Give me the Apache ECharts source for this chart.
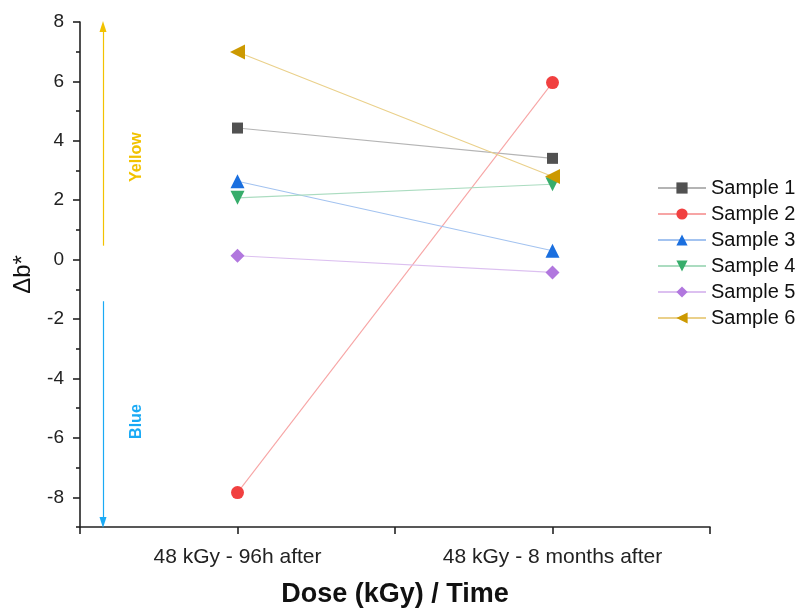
<!DOCTYPE html>
<html>
<head>
<meta charset="utf-8">
<script src="https://cdn.jsdelivr.net/npm/echarts@6/dist/echarts.min.js"></script>
<style>
  html, body { margin: 0; padding: 0; background: #fff; }
  #chart { width: 803px; height: 608px; }
</style>
</head>
<body>
<div id="chart"></div>
<script>
// categories on the x axis (placed at x = 1 and x = 2)
const categories = ['48 kGy - 96h after', '48 kGy - 8 months after'];
const sampleNames = ['Sample 1', 'Sample 2', 'Sample 3', 'Sample 4', 'Sample 5', 'Sample 6'];
const sample1 = [4.43, 3.41];
const sample2 = [-7.84, 5.96];
const sample3 = [2.64, 0.3];
const sample4 = [2.08, 2.54];
const sample5 = [0.13, -0.43];
const sample6 = [6.99, 2.8];
const yTicks = [-8, -6, -4, -2, 0, 2, 4, 6, 8];
const yMinorTicks = [-9, -7, -5, -3, -1, 1, 3, 5, 7];

const FONT = 'Arial, "Liberation Sans", sans-serif';
const markerColors = ['#515151', '#F14040', '#1A6FDF', '#37AD6B', '#B177DE', '#CC9900'];
const lineColors = ['#b4b4b4', '#f7a5a5', '#a3c3f0', '#abdcc0', '#dcc0f0', '#ead08a'];
const symbols = ['rect', 'circle', 'triangle', 'triangle', 'diamond', 'triangle'];
const rotates = [0, 0, 0, 180, 0, 90];
const sizes = [11, 13, 14, 14, 14, 15];
const allData = [sample1, sample2, sample3, sample4, sample5, sample6];

const chart = echarts.init(document.getElementById('chart'));

const series = allData.map((vals, i) => ({
  name: sampleNames[i],
  type: 'line',
  data: vals.map((v, j) => [j + 1, v]),
  symbol: symbols[i],
  symbolSize: sizes[i],
  symbolRotate: rotates[i],
  showAllSymbol: true,
  lineStyle: { color: lineColors[i], width: 1.1 },
  itemStyle: { color: markerColors[i] },
  z: 3
}));

// colour direction arrows
series.push({
  type: 'line',
  data: [],
  silent: true,
  markLine: {
    silent: true,
    symbol: ['none', 'triangle'],
    symbolSize: [7, 11],
    label: { show: false },
    data: [
      [{ coord: [0.573, 0.47], lineStyle: { color: '#F2C200', width: 1.2, type: 'solid' } },
       { coord: [0.573, 7.85] }],
      [{ coord: [0.573, -1.4], lineStyle: { color: '#1AAAF5', width: 1.2, type: 'solid' } },
       { coord: [0.573, -8.85] }]
    ]
  }
});

chart.setOption({
  animation: false,
  backgroundColor: '#fff',
  grid: { left: 80, right: 93, top: 22, bottom: 81, outerBoundsMode: 'none' },
  legend: {
    data: sampleNames,
    orient: 'vertical',
    left: 652,
    top: 173,
    itemWidth: 48,
    itemHeight: 14,
    itemGap: 6,
    textStyle: { fontFamily: FONT, fontSize: 20, color: '#111' }
  },
  xAxis: {
    type: 'value',
    min: 0.5,
    max: 2.5,
    interval: 0.5,
    name: 'Dose (kGy) / Time',
    nameLocation: 'middle',
    nameGap: 54,
    nameTextStyle: { fontFamily: FONT, fontSize: 27, fontWeight: 'bold', color: '#111' },
    axisLine: { onZero: false, lineStyle: { color: '#222', width: 1.6 } },
    axisTick: { show: true, length: 7, lineStyle: { color: '#222', width: 1.6 } },
    axisLabel: {
      fontFamily: FONT, fontSize: 21, color: '#222', margin: 20,
      formatter: v => (v === 1 ? categories[0] : v === 2 ? categories[1] : '')
    },
    splitLine: { show: false }
  },
  yAxis: [{
    type: 'value',
    min: -9,
    max: 8,
    interval: 1,
    name: 'Δb*',
    nameLocation: 'middle',
    nameGap: 45,
    nameTextStyle: { fontFamily: FONT, fontSize: 24, color: '#111' },
    axisLine: { show: true, lineStyle: { color: '#222', width: 1.6 } },
    axisTick: { show: true, length: 7, customValues: yTicks, lineStyle: { color: '#222', width: 1.6 } },
    axisLabel: { fontFamily: FONT, fontSize: 19, color: '#222', margin: 16, customValues: yTicks },
    splitLine: { show: false }
  }, {
    type: 'value',
    min: -9,
    max: 8,
    interval: 1,
    position: 'left',
    axisLine: { show: false },
    axisTick: { show: true, length: 4, customValues: yMinorTicks, lineStyle: { color: '#222', width: 1.6 } },
    axisLabel: { show: false },
    splitLine: { show: false }
  }],
  series: series
});

// rotated "Yellow" / "Blue" labels placed next to the arrows
const pY = chart.convertToPixel({ xAxisIndex: 0, yAxisIndex: 0 }, [0.68, 3.45]);
const pB = chart.convertToPixel({ xAxisIndex: 0, yAxisIndex: 0 }, [0.68, -5.45]);
chart.setOption({
  graphic: [
    { type: 'text', x: pY[0], y: pY[1], rotation: Math.PI / 2,
      style: { text: 'Yellow', fill: '#F2C200', font: 'bold 16px ' + FONT, align: 'center', verticalAlign: 'middle' } },
    { type: 'text', x: pB[0], y: pB[1], rotation: Math.PI / 2,
      style: { text: 'Blue', fill: '#1AAAF5', font: 'bold 16px ' + FONT, align: 'center', verticalAlign: 'middle' } }
  ]
});
</script>
</body>
</html>
